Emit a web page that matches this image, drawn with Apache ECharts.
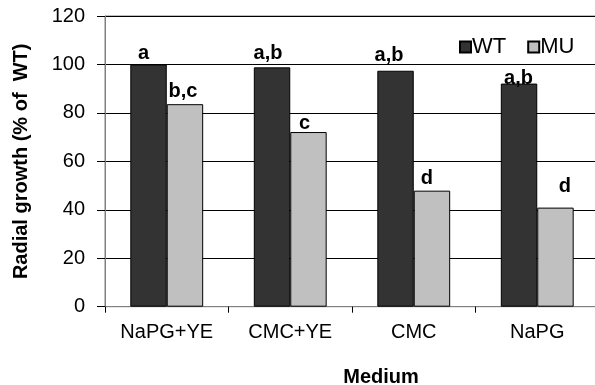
<!DOCTYPE html>
<html>
<head>
<meta charset="utf-8">
<script src="https://cdn.jsdelivr.net/npm/echarts@6/dist/echarts.min.js"></script>
<style>
  html, body { margin: 0; padding: 0; background: #fff; }
  #chart { width: 595px; height: 385px; }
</style>
</head>
<body>
<div id="chart"></div>
<script>
// Radial growth of wild type and mutant on four media
const media = ['NaPG+YE', 'CMC+YE', 'CMC', 'NaPG'];
const wtGrowth = [100, 98.8, 97.4, 92.1];
const muGrowth = [83.6, 72.1, 47.9, 40.9];
const yTicks = [0, 20, 40, 60, 80, 100, 120];

// significance letters shown above each bar
const wtLetters = ['a', 'a,b', 'a,b', 'a,b'];
const muLetters = ['b,c', 'c', 'd', 'd'];

// per-bar nudges of the letter labels [dx, dy]
const wtLetterShift = [[-5, -1], [-4, -3.7], [-6.5, -5.3], [-0.5, 5.3]];
const muLetterShift = [[-2, -3], [-4, 1.7], [-5, -1.7], [9.5, -10.7]];

const FONT = 'Liberation Sans, Arial, sans-serif';

function withLetters(values, letters, shifts) {
  return values.map((v, i) => ({
    value: v,
    label: { formatter: letters[i], offset: shifts[i] }
  }));
}

const letterLabel = {
  show: true,
  position: 'top',
  distance: 0,
  fontFamily: FONT,
  fontWeight: 'bold',
  fontSize: 20,
  color: '#000'
};

const chart = echarts.init(document.getElementById('chart'), null, { renderer: 'canvas' });
chart.setOption({
  animation: false,
  backgroundColor: '#fff',
  textStyle: { fontFamily: FONT },
  grid: { left: 105, top: 16, width: 494, height: 290.7, containLabel: false,
          outerBoundsMode: 'none',
          show: true, borderColor: '#808080', borderWidth: 1 },
  legend: {
    left: 454, top: 31,
    itemWidth: 11, itemHeight: 11, itemGap: 21,
    icon: 'rect',
    textStyle: { fontFamily: FONT, fontSize: 22, color: '#000', padding: [2, 0, 0, -4] },
    data: ['WT', 'MU']
  },
  xAxis: {
    type: 'category',
    data: media,
    name: 'Medium',
    nameLocation: 'middle',
    nameGap: 61,
    nameTextStyle: { fontFamily: FONT, fontWeight: 'bold', fontSize: 20, color: '#000', padding: [0, 0, 0, 58] },
    axisLine: { lineStyle: { color: '#808080', width: 1 } },
    axisTick: { show: true, alignWithLabel: false, length: 6, lineStyle: { color: '#000' } },
    axisLabel: { fontFamily: FONT, fontSize: 20, color: '#000', margin: 16 },
    splitLine: { show: false }
  },
  yAxis: {
    type: 'value',
    min: 0, max: 120, interval: 20,
    name: 'Radial growth (% of  WT)',
    nameLocation: 'middle',
    nameGap: 74,
    nameTextStyle: { fontFamily: FONT, fontWeight: 'bold', fontSize: 20, color: '#000' },
    axisLine: { show: true, lineStyle: { color: '#808080', width: 1 } },
    axisTick: { show: true, length: 8, lineStyle: { color: '#000' } },
    axisLabel: {
      fontFamily: FONT, fontSize: 20, color: '#000', margin: 20,
      formatter: v => (yTicks.includes(v) ? String(v) : '')
    },
    splitLine: { show: true, lineStyle: { color: '#000', width: 1 } }
  },
  series: [
    {
      name: 'WT',
      type: 'bar',
      data: withLetters(wtGrowth, wtLetters, wtLetterShift),
      barGap: '0%',
      barCategoryGap: '41%',
      itemStyle: { color: '#333333', borderColor: '#000', borderWidth: 1 },
      label: letterLabel
    },
    {
      name: 'MU',
      type: 'bar',
      data: withLetters(muGrowth, muLetters, muLetterShift),
      itemStyle: { color: '#c0c0c0', borderColor: '#000', borderWidth: 1 },
      label: letterLabel
    }
  ]
});
</script>
</body>
</html>
